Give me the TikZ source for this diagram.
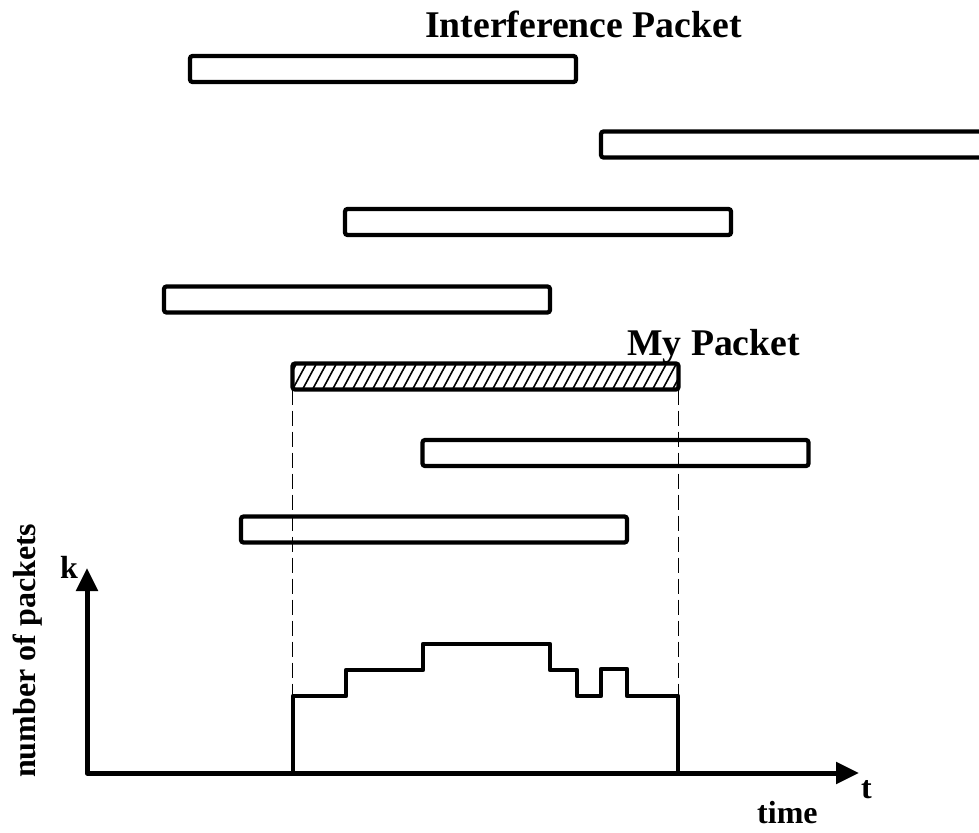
\documentclass[tikz,border=0pt]{standalone}
\usepackage{fontspec}
\setmainfont{Liberation Serif}
\usetikzlibrary{arrows.meta}
\begin{document}
\begin{tikzpicture}[x=1pt, y=-1pt,
  pkt/.style={draw, line width=4.2pt, rounded corners=2.5pt, fill=white,
    minimum width=386pt, minimum height=26pt, inner sep=0pt, outer sep=0pt},
  mine/.style={pkt, path picture={
    \foreach \i in {-30,-20,...,400}{
      \draw[line width=1.6pt] ([xshift=\i pt]path picture bounding box.south west) -- ++(14,-26);}}},
  bigtext/.style={font=\bfseries\fontsize{37.7}{40}\selectfont, inner sep=0pt, anchor=base west},
  smalltext/.style={font=\bfseries\fontsize{32}{34}\selectfont, inner sep=0pt, anchor=base west},
  guide/.style={line width=1.9pt, dash pattern=on 15pt off 6pt},
  axis/.style={line width=5pt, line join=round, {Triangle[length=23pt,width=21pt]}-{Triangle[length=23pt,width=21pt]}},
  stepline/.style={line width=4.2pt, line join=round}]
\useasboundingbox (0,0) rectangle (979,832);
\clip (0,0) rectangle (979,832);

% packets on the air
\node[pkt] (i1) at (383,69) {};
\node[pkt] (i2) at (794,144.5) {};
\node[pkt] (i3) at (538,222) {};
\node[pkt] (i4) at (357,299.5) {};
\node[mine] (my) at (485.5,376.5) {};
\node[pkt] (i5) at (615.5,453) {};
\node[pkt] (i6) at (434,529.5) {};

% labels
\node[bigtext] (ttl) at (425,38) {Interference Packet};
\node[bigtext] (myl) at (627,355) {My Packet};

% axes
\coordinate (O) at (87,773);
\coordinate (ytip) at (87,568);
\coordinate (xtip) at (859,773);
\draw[axis] (ytip) -- (O) -- (xtip);
\node[smalltext] (kl) at (60,578) {k};
\node[smalltext] (tl) at (861,798) {t};
\node[smalltext] (timel) at (757,823) {time};
\node[smalltext, rotate=90] (ylab) at (35,778) {number of packets};

% interval of my packet projected on the time axis
\draw[guide] (my.south west) -- (my.south west |- O);
\draw[guide] (my.south east) -- (my.south east |- O);

% number of overlapping packets
\draw[stepline] (293,773) |- (346,696) |- (423,670) |- (550,644) |- (577,670)
  |- (601,696) |- (627,669) |- (678,696) -- (678,773);
\end{tikzpicture}
\end{document}
